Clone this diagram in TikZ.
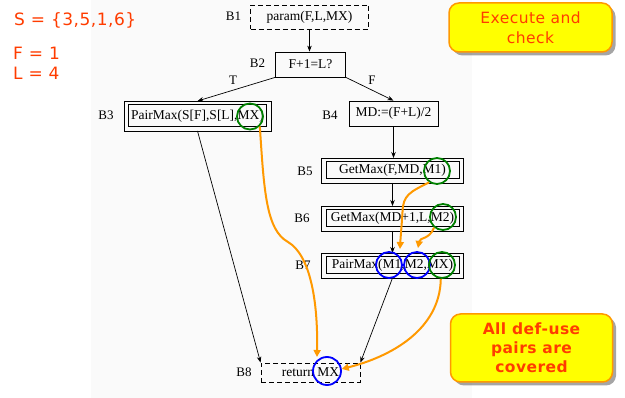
\documentclass[tikz,border=0pt]{standalone}
\usepackage{fontspec}
\setmainfont{Liberation Serif}
\newfontfamily\notefont[LetterSpace=3]{DejaVu Sans}
\usetikzlibrary{arrows.meta,shadows,calc}

\definecolor{noteRed}{RGB}{255,60,0}
\definecolor{useOrange}{RGB}{255,153,0}
\definecolor{defGreen}{RGB}{0,128,0}
\definecolor{useBlue}{RGB}{0,0,255}
\definecolor{noteYellow}{RGB}{255,255,0}

\begin{document}
\begin{tikzpicture}[x=1pt,y=-1pt,
  every node/.style={inner sep=0pt},
  cfgfont/.style={font=\fontsize{13.5}{16}\selectfont},
  blk/.style={draw, line width=0.8pt, cfgfont},
  dblk/.style={blk, line width=1pt},
  frame/.style={draw, line width=0.8pt},
  dashblk/.style={blk, dash pattern=on 5pt off 3pt},
  lbl/.style={font=\fontsize{13}{16}\selectfont},
  flow/.style={-{Stealth[length=6pt,width=4.5pt]}, line width=0.7pt},
  defc/.style={circle, draw=defGreen, line width=1.8pt, minimum size=26pt},
  usec/.style={circle, draw=useBlue, line width=1.8pt, minimum size=26pt},
  du/.style={draw=useOrange, line width=2pt, -{Triangle[length=7pt,width=7pt]}},
  note/.style={rounded corners=10pt, draw=useOrange, line width=1.5pt,
    fill=noteYellow, text=noteRed, align=center,
    drop shadow={shadow xshift=3.5pt, shadow yshift=-3.5pt, fill=black!70}},
  given/.style={anchor=west, text=noteRed, font=\notefont\fontsize{17}{20}\selectfont},
]
\useasboundingbox (0,0) rectangle (625,398);
\fill[black!2] (91,0) rectangle (472,398);

% input values
\node[given] (sset) at (14,20) {S = \{3,5,1,6\}};
\node[given] (fval) at (13,53) {F = 1};
\node[given] (lval) at (13,73) {L = 4};

% control flow graph blocks (inner boxes of the double-framed ones)
\node[dashblk, minimum width=118pt, minimum height=24pt] (b1) at (309.5,17) {param(F,L,MX)};
\node[blk, minimum width=70pt, minimum height=25pt] (b2) at (310.5,64.5) {F+1=L?};
\node[dblk, minimum width=138pt, minimum height=22pt] (b3) at (197.5,116) {PairMax(S[F],S[L],MX)};
\node[blk, minimum width=89pt, minimum height=25pt] (b4) at (393.5,113.5) {MD:=(F+L)/2};
\node[dblk, minimum width=133pt, minimum height=17pt] (b5) at (392.5,170.5) {GetMax(F,MD,M1)};
\node[dblk, minimum width=133pt, minimum height=17pt] (b6) at (392.5,218.5) {GetMax(MD+1,L,M2)};
\node[dblk, minimum width=133pt, minimum height=17pt] (b7) at (392.5,265.5) {PairMax(M1,M2,MX)};
\node[dashblk, minimum width=99pt, minimum height=19pt] (b8) at (310.5,372.5) {return MX};

% outer frames of the double-framed blocks
\foreach \b in {b3,b5,b6,b7}
  \draw[frame] ([shift={(-4,-3.5)}]\b.north west) rectangle ([shift={(4,3.5)}]\b.south east);

% block labels
\node[lbl] (l1) at (233.5,16.5) {B1};
\node[lbl] (l2) at (257.5,63.5) {B2};
\node[lbl] (l3) at (106,115) {B3};
\node[lbl] (l4) at (330,115) {B4};
\node[lbl] (l5) at (305,171) {B5};
\node[lbl] (l6) at (302,218.5) {B6};
\node[lbl] (l7) at (303,265.5) {B7};
\node[lbl] (l8) at (244,372) {B8};
\node[lbl] (tlab) at (233,80) {T};
\node[lbl] (flab) at (372,80) {F};

% control flow edges (ending on the outer frames)
\draw[flow] (b1.south) -- (b1.south |- b2.north);
\draw[flow] (b2.south west) -- ([yshift=3.5pt]b3.north);
\draw[flow] (b2.south east) -- (b4.north);
\draw[flow] (b4.south) -- ([yshift=3.5pt]b4.south |- b5.north);
\draw[flow] ([yshift=-3.5pt]b5.south) -- ([yshift=3.5pt]b6.north);
\draw[flow] ([yshift=-3.5pt]b6.south) -- ([yshift=3.5pt]b7.north);
\draw[flow] ([yshift=-3.5pt]b3.south) -- (b8.north west);
\draw[flow] ([yshift=-3.5pt]b7.south) -- (b8.north east);

% definitions (green) and uses (blue)
\node[usec] (u71) at (389,265) {};
\node[usec] (u72) at (417,265) {};
\node[usec, minimum size=28pt] (u8) at (327,371) {};
\node[defc] (c3) at (250,116.5) {};
\node[defc] (c5) at (437,171) {};
\node[defc] (c6) at (443,217) {};
\node[defc] (c7) at (442,265) {};

% def-use pairs
\draw[du] (c3.-45) .. controls (264,190) and (266,230) .. (288,242)
  .. controls (310,255) and (318,300) .. ($(u8)+(-10,-14)$);
\draw[du] (c5.-125) .. controls (410,192) and (403,195) .. (402.5,212)
  .. controls (401.5,228) and (400.5,238) .. ($(u71)+(11,-16)$);
\draw[du] (c6.-130) .. controls (429,240) and (420,237) .. ($(u72)+(1,-17)$);
\draw[du] (c7.-95) .. controls (440,330) and (390,357) .. (u8.8);

% notes
\node[note, minimum width=163pt, minimum height=49pt,
  font=\notefont\fontsize{15.5}{20}\selectfont] (exec) at (530.5,27.5) {Execute and\\check};
\node[note, minimum width=162pt, minimum height=68pt,
  font=\notefont\bfseries\fontsize{15.5}{19}\selectfont] (cover) at (531.5,348) {All def-use\\pairs are\\covered};
\end{tikzpicture}
\end{document}
